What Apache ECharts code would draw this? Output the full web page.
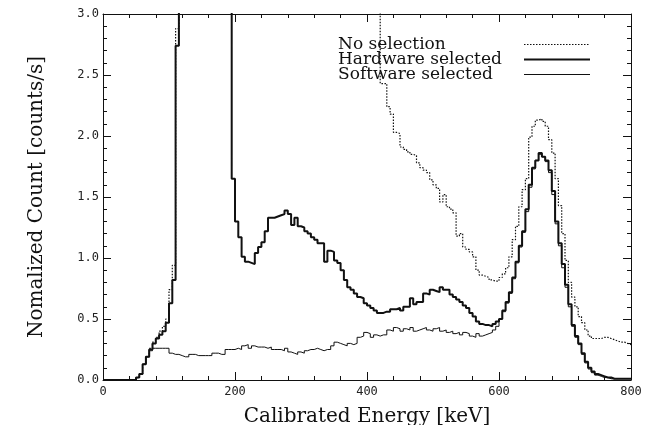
<!DOCTYPE html>
<html>
<head>
<meta charset="utf-8">
<script src="https://cdn.jsdelivr.net/npm/echarts@6/dist/echarts.min.js"></script>
<style>
  html, body { margin: 0; padding: 0; background: #fff; }
  #chart { width: 654px; height: 425px; }
</style>
</head>
<body>
<div id="chart"></div>
<script>
// histogram bins, 5 keV wide, value = counts/s in [start, start+5)
const binWidth = 5;
const seriesNames = ["No selection", "Hardware selected", "Software selected"];
const xTicks = [0, 200, 400, 600, 800];
const yTicks = [0.0, 0.5, 1.0, 1.5, 2.0, 2.5, 3.0];

// values above 3.0 run off the top of the frame
const noSelection = [
  0, 0, 0, 0, 0, 0, 0, 0, 0, 0,
  0.02, 0.05, 0.13, 0.19, 0.26, 0.31, 0.35, 0.40, 0.44, 0.50,
  0.74, 0.94, 2.88, 6, 6, 6, 6, 6, 6, 6,
  6, 6, 6, 6, 6, 6, 6, 6, 6, 6,
  6, 6, 6, 6, 6, 6, 6, 6, 6, 6,
  6, 6, 6, 6, 6, 6, 6, 6, 6, 6,
  6, 6, 6, 6, 6, 6, 6, 6, 6, 6,
  6, 6, 6, 6, 6, 6, 6, 6, 6, 6,
  6, 6, 6, 6, 2.43, 2.43, 2.24, 2.18, 2.03, 2.02,
  1.91, 1.89, 1.87, 1.85, 1.84, 1.78, 1.74, 1.72, 1.70, 1.64,
  1.60, 1.57, 1.46, 1.52, 1.42, 1.40, 1.37, 1.18, 1.20, 1.09,
  1.07, 1.05, 1.01, 0.90, 0.86, 0.85, 0.84, 0.82, 0.81, 0.81,
  0.84, 0.87, 0.92, 1.01, 1.15, 1.26, 1.42, 1.56, 1.65, 1.99,
  2.08, 2.13, 2.14, 2.12, 2.08, 1.97, 1.86, 1.65, 1.43, 1.20,
  0.98, 0.80, 0.68, 0.60, 0.52, 0.47, 0.41, 0.36, 0.34, 0.34,
  0.34, 0.35, 0.35, 0.34, 0.33, 0.32, 0.31, 0.31, 0.30, 0.29
];

const hardware = [
  0, 0, 0, 0, 0, 0, 0, 0, 0, 0,
  0.02, 0.05, 0.13, 0.19, 0.25, 0.30, 0.34, 0.37, 0.40, 0.47,
  0.63, 0.82, 2.74, 6, 6, 6, 6, 6, 6, 6,
  6, 6, 6, 6, 6, 6, 6, 6, 6, 1.65,
  1.30, 1.17, 1.01, 0.97, 0.96, 0.95, 1.04, 1.09, 1.13, 1.22,
  1.33, 1.33, 1.34, 1.35, 1.36, 1.39, 1.36, 1.27, 1.33, 1.26,
  1.25, 1.22, 1.20, 1.17, 1.15, 1.12, 1.12, 0.97, 1.06, 1.05,
  0.98, 0.96, 0.90, 0.82, 0.76, 0.74, 0.71, 0.68, 0.67, 0.63,
  0.61, 0.59, 0.57, 0.55, 0.55, 0.56, 0.56, 0.58, 0.58, 0.59,
  0.57, 0.60, 0.60, 0.67, 0.62, 0.64, 0.64, 0.71, 0.70, 0.74,
  0.73, 0.72, 0.76, 0.74, 0.74, 0.70, 0.68, 0.66, 0.64, 0.61,
  0.59, 0.55, 0.52, 0.48, 0.46, 0.45, 0.45, 0.44, 0.46, 0.48,
  0.50, 0.57, 0.64, 0.72, 0.84, 0.97, 1.10, 1.22, 1.40, 1.60,
  1.74, 1.80, 1.86, 1.83, 1.80, 1.72, 1.55, 1.30, 1.12, 0.95,
  0.78, 0.62, 0.45, 0.36, 0.30, 0.22, 0.15, 0.10, 0.07, 0.05,
  0.04, 0.03, 0.02, 0.02, 0.01, 0.01, 0.01, 0.01, 0.01, 0.01
];

const software = [
  0, 0, 0, 0, 0, 0, 0, 0, 0, 0,
  0.02, 0.05, 0.13, 0.19, 0.24, 0.26, 0.26, 0.26, 0.26, 0.26,
  0.22, 0.21, 0.21, 0.20, 0.19, 0.19, 0.21, 0.21, 0.20, 0.20,
  0.20, 0.20, 0.20, 0.22, 0.22, 0.21, 0.21, 0.25, 0.25, 0.25,
  0.26, 0.25, 0.28, 0.29, 0.26, 0.28, 0.27, 0.27, 0.27, 0.26,
  0.27, 0.25, 0.25, 0.25, 0.24, 0.26, 0.23, 0.22, 0.21, 0.23,
  0.22, 0.24, 0.25, 0.25, 0.26, 0.25, 0.24, 0.25, 0.25, 0.28,
  0.31, 0.30, 0.29, 0.28, 0.30, 0.29, 0.30, 0.35, 0.36, 0.39,
  0.38, 0.35, 0.37, 0.36, 0.37, 0.37, 0.41, 0.40, 0.43, 0.42,
  0.40, 0.42, 0.41, 0.43, 0.40, 0.41, 0.42, 0.43, 0.41, 0.40,
  0.42, 0.43, 0.40, 0.41, 0.39, 0.40, 0.38, 0.39, 0.37, 0.39,
  0.38, 0.36, 0.35, 0.38, 0.36, 0.37, 0.38, 0.39, 0.41, 0.44,
  0.50, 0.56, 0.63, 0.71, 0.83, 0.96, 1.09, 1.21, 1.38, 1.58,
  1.73, 1.80, 1.85, 1.83, 1.79, 1.70, 1.52, 1.28, 1.10, 0.92,
  0.76, 0.60, 0.44, 0.35, 0.29, 0.21, 0.14, 0.09, 0.06, 0.04,
  0.03, 0.02, 0.02, 0.01, 0.01, 0.01, 0.01, 0.01, 0.01, 0.01
];

// [start, value] pairs plus closing edge so the last bin is drawn full width
function toSteps(values) {
  const pts = values.map((v, i) => [i * binWidth, v]);
  pts.push([values.length * binWidth, values[values.length - 1]]);
  return pts;
}

const ink = "#111";
const labelFont = { fontFamily: "DejaVu Sans Mono", fontSize: 12, color: "#222" };
const nameFont = { fontFamily: "DejaVu Serif", fontSize: 20, color: ink };
const lineStyles = [
  { color: ink, width: 1.2, type: [1.5, 1.5] },
  { color: ink, width: 2 },
  { color: ink, width: 1 }
];

function frameAxis(extra) {
  return Object.assign({
    type: "value",
    axisLine: { show: true, onZero: false, lineStyle: { color: ink, width: 1 } },
    axisTick: { show: true, inside: true, length: 8, lineStyle: { color: ink } },
    minorTick: { show: true, splitNumber: 5, length: 4, lineStyle: { color: ink } },
    splitLine: { show: false }
  }, extra);
}

const chart = echarts.init(document.getElementById("chart"));
chart.setOption({
  backgroundColor: "#fff",
  animation: false,
  grid: { left: 103, right: 23, top: 14, bottom: 45, containLabel: false, outerBoundsMode: "none" },
  legend: {
    orient: "vertical",
    left: 333,
    top: 31,
    align: "right",
    itemWidth: 66,
    itemHeight: 10,
    itemGap: -2,
    data: seriesNames.map((n, i) => ({ name: n, lineStyle: lineStyles[i] })),
    itemStyle: { opacity: 0 },
    formatter: name => "{t|" + name + "}",
    textStyle: {
      fontFamily: "DejaVu Serif", fontSize: 17, color: ink,
      rich: { t: { width: 181, align: "left", fontFamily: "DejaVu Serif", fontSize: 17, lineHeight: 15, color: ink } }
    }
  },
  xAxis: [
    frameAxis({
      position: "bottom",
      min: xTicks[0], max: xTicks[xTicks.length - 1], interval: xTicks[1] - xTicks[0],
      axisLabel: Object.assign({ margin: 6 }, labelFont),
      name: "Calibrated Energy [keV]",
      nameLocation: "middle",
      nameGap: 27,
      nameTextStyle: nameFont
    }),
    frameAxis({
      position: "top",
      min: xTicks[0], max: xTicks[xTicks.length - 1], interval: xTicks[1] - xTicks[0],
      axisLabel: { show: false }
    })
  ],
  yAxis: [
    frameAxis({
      position: "left",
      min: yTicks[0], max: yTicks[yTicks.length - 1], interval: yTicks[1] - yTicks[0],
      axisLabel: Object.assign({ margin: 4, formatter: v => v.toFixed(1) }, labelFont),
      name: "Nomalized Count [counts/s]",
      nameLocation: "middle",
      nameGap: 56,
      nameTextStyle: nameFont
    }),
    frameAxis({
      position: "right",
      min: yTicks[0], max: yTicks[yTicks.length - 1], interval: yTicks[1] - yTicks[0],
      axisLabel: { show: false }
    })
  ],
  series: [
    {
      name: seriesNames[0], type: "line", step: "end", symbol: "none", clip: true,
      data: toSteps(noSelection),
      lineStyle: lineStyles[0],
      itemStyle: { color: ink }
    },
    {
      name: seriesNames[1], type: "line", step: "end", symbol: "none", clip: true,
      data: toSteps(hardware),
      lineStyle: lineStyles[1],
      itemStyle: { color: ink }
    },
    {
      name: seriesNames[2], type: "line", step: "end", symbol: "none", clip: true,
      data: toSteps(software),
      lineStyle: lineStyles[2],
      itemStyle: { color: ink }
    }
  ]
});
</script>
</body>
</html>
